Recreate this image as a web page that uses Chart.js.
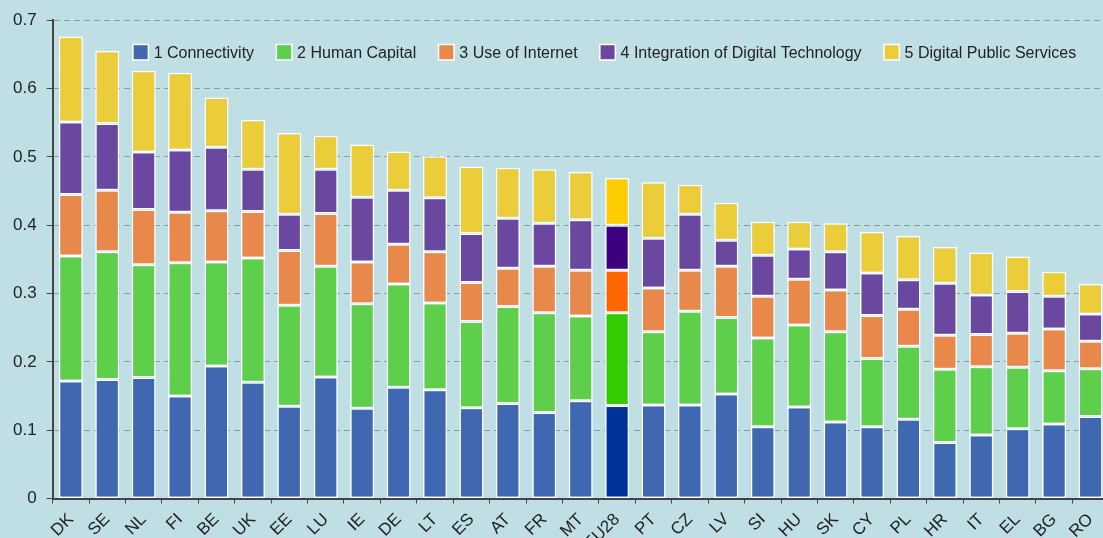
<!DOCTYPE html>
<html>
<head>
<meta charset="utf-8">
<script src="https://cdn.jsdelivr.net/npm/chart.js@4"></script>
<style>
  html, body { margin: 0; padding: 0; background: #c0dfe5; overflow: hidden; }
  #wrap { width: 1111px; height: 560px; position: relative; }
</style>
</head>
<body>
<div id="wrap"><canvas id="desiChart"></canvas></div>
<script>
const countries = ['DK', 'SE', 'NL', 'FI', 'BE', 'UK', 'EE', 'LU', 'IE', 'DE', 'LT', 'ES', 'AT', 'FR', 'MT',
    'EU28', 'PT', 'CZ', 'LV', 'SI', 'HU', 'SK', 'CY', 'PL', 'HR', 'IT', 'EL', 'BG', 'RO']

const connectivity = [0.172, 0.174, 0.177, 0.150, 0.194, 0.170, 0.135, 0.178, 0.132, 0.163, 0.159, 0.133, 0.139, 0.126, 0.143,
    0.136, 0.137, 0.137, 0.153, 0.105, 0.134, 0.112, 0.105, 0.116, 0.082, 0.093, 0.102, 0.109, 0.120]
const humanCapital = [0.183, 0.187, 0.165, 0.195, 0.152, 0.182, 0.148, 0.162, 0.153, 0.151, 0.127, 0.126, 0.142, 0.146, 0.124,
    0.136, 0.107, 0.137, 0.112, 0.130, 0.120, 0.132, 0.100, 0.107, 0.107, 0.100, 0.090, 0.078, 0.070]
const useOfInternet = [0.090, 0.090, 0.081, 0.074, 0.075, 0.068, 0.080, 0.077, 0.061, 0.058, 0.075, 0.057, 0.056, 0.068, 0.067,
    0.062, 0.064, 0.060, 0.075, 0.061, 0.067, 0.061, 0.063, 0.054, 0.050, 0.047, 0.050, 0.061, 0.040]
const integration = [0.106, 0.098, 0.084, 0.091, 0.093, 0.062, 0.053, 0.065, 0.095, 0.079, 0.079, 0.072, 0.073, 0.063, 0.074,
    0.066, 0.073, 0.082, 0.038, 0.060, 0.044, 0.056, 0.062, 0.043, 0.076, 0.058, 0.061, 0.048, 0.040]
const publicServices = [0.125, 0.106, 0.119, 0.113, 0.073, 0.072, 0.119, 0.049, 0.077, 0.057, 0.061, 0.098, 0.074, 0.079, 0.070,
    0.069, 0.082, 0.043, 0.055, 0.049, 0.040, 0.042, 0.060, 0.064, 0.053, 0.062, 0.051, 0.036, 0.044]

const seriesLabels = ['1 Connectivity', '2 Human Capital', '3 Use of Internet',
    '4 Integration of Digital Technology', '5 Digital Public Services']
const seriesColors = ['#3f68b1', '#5dcf4b', '#e8894b', '#6a48a0', '#ebcd3a']
const euColors = ['#003399', '#33cc00', '#ff6600', '#3d0080', '#ffcc00']
const yTicks = [0, 0.1, 0.2, 0.3, 0.4, 0.5, 0.6, 0.7]

const euIndex = countries.indexOf('EU28')

function colorsFor(i) {
    return countries.map((c, idx) => idx === euIndex ? euColors[i] : seriesColors[i])
}

const seriesData = [connectivity, humanCapital, useOfInternet, integration, publicServices]
const datasets = seriesData.map((values, i) => ({
    label: seriesLabels[i],
    data: values,
    backgroundColor: colorsFor(i),
    borderColor: '#ffffff',
    borderWidth: 1.5,
    borderSkipped: false,
    barPercentage: 0.66,
    categoryPercentage: 1
}))

// legend sits inside the plot, near the top
const insideLegend = {
    id: 'insideLegend',
    afterDraw(chart) {
        const ctx = chart.ctx
        const box = 14
        let x = chart.chartArea.left + 81
        const y = chart.chartArea.top + 32
        ctx.save()
        ctx.font = '16px "Liberation Sans", Arial, sans-serif'
        ctx.textBaseline = 'middle'
        chart.data.datasets.forEach((ds, i) => {
            ctx.fillStyle = '#ffffff'
            ctx.fillRect(x - 1.5, y - box / 2 - 1.5, box + 3, box + 3)
            ctx.fillStyle = seriesColors[i]
            ctx.fillRect(x, y - box / 2, box, box)
            ctx.fillStyle = '#222'
            ctx.fillText(ds.label, x + box + 6, y + 1)
            x += box + 6 + ctx.measureText(ds.label).width + 23
        })
        ctx.restore()
    }
}

const ctx = document.getElementById('desiChart').getContext('2d')
const chart = new Chart(ctx, {
    type: 'bar',
    data: { labels: countries, datasets: datasets },
    options: {
        responsive: true,
        maintainAspectRatio: false,
        animation: false,
        layout: { padding: { top: 8, left: 3, right: 0, bottom: 0 } },
        plugins: {
            legend: { display: false },
            tooltip: { enabled: false }
        },
        scales: {
            x: {
                stacked: true,
                grid: { drawOnChartArea: false, tickLength: 5, tickColor: '#444', offset: true },
                border: { color: '#444', width: 2 },
                ticks: {
                    autoSkip: false, minRotation: 45, maxRotation: 45, padding: 6,
                    color: '#222', font: { family: '"Liberation Sans", Arial, sans-serif', size: 17 }
                }
            },
            y: {
                stacked: true,
                min: 0,
                max: 0.7,
                z: 1,
                afterBuildTicks: axis => { axis.ticks = yTicks.map(v => ({ value: v })) },
                grid: { color: 'rgba(50,60,70,0.4)', lineWidth: 1, tickLength: 6, tickColor: '#444' },
                border: { color: '#444', width: 2, dash: [6, 4] },
                ticks: {
                    padding: 10, color: '#222',
                    font: { family: '"Liberation Sans", Arial, sans-serif', size: 17 },
                    callback: v => v === 0 ? '0' : v.toFixed(1)
                }
            }
        }
    },
    plugins: [insideLegend]
})
</script>
</body>
</html>
